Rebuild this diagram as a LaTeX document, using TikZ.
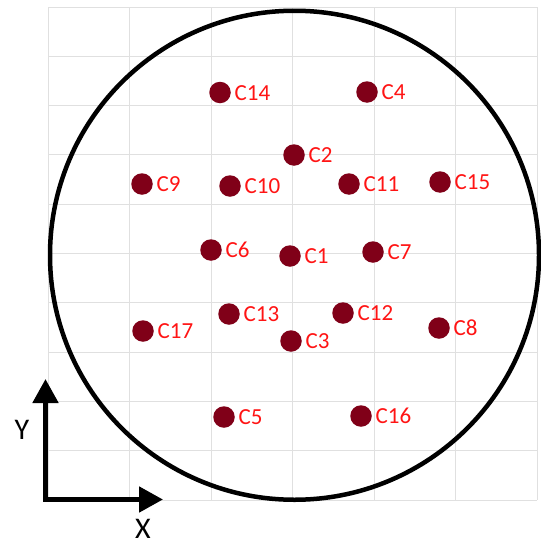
\documentclass[tikz,border=0pt]{standalone}
\usepackage{fontspec}
\setmainfont{Carlito}
\usetikzlibrary{arrows.meta}
\definecolor{dotred}{RGB}{128,0,24}
\definecolor{labred}{RGB}{255,20,20}
\definecolor{gridgray}{RGB}{224,224,224}
\tikzset{
  gridline/.style={draw=gridgray, line width=1pt},
  wafer/.style={draw=black, line width=4.5pt},
  dotnode/.style={circle, fill=dotred, minimum size=21.5pt, inner sep=0pt},
  lab/.style={text=labred, anchor=base west, inner sep=0pt, font=\fontsize{23}{26}\selectfont},
  axis/.style={draw=black, line width=5pt, -{Triangle[length=24pt,width=25pt]}},
  axlab/.style={text=black, inner sep=0pt, font=\fontsize{30}{34}\selectfont}
}
\begin{document}
\begin{tikzpicture}[x=1pt,y=-1pt]
\useasboundingbox[fill=white] (0,0) rectangle (541,541);
% grid
\foreach \k in {0,...,6}{
  \draw[gridline] ({48+\k*81.5},7) -- ({48+\k*81.5},500);
}
\foreach \k in {0,...,10}{
  \draw[gridline] (48,{7+\k*49.3}) -- (537,{7+\k*49.3});
}
% wafer circle
\node[draw=none, inner sep=0pt, minimum size=0pt] (ctr) at (294.5,255.25) {};
\draw[wafer] (ctr) circle[radius=244.5];
% dots
\foreach \n/\x/\y in {C14/220/92.5, C4/367/92, C2/294/155, C9/142/184, C10/230/186,
  C11/349/184, C15/440/182, C6/211/250, C1/290/256, C7/373/252, C13/229/314,
  C17/143/331, C12/343/313, C3/291/341, C8/439/328, C5/224/417, C16/361/416}{
  \node[dotnode] (d\n) at (\x,\y) {};
  \node[lab] (l\n) at (\x+14.5,\y+7.5) {\n};
}
% axes
\coordinate (o) at (45.5,499.5);
\coordinate (ytip) at (45.5,379);
\coordinate (xtip) at (163,499.5);
\draw[axis] (ytip |- o) ++(0,-2.5) -- (ytip);
\draw[axis] (o) ++(-2.5,0) -- (xtip);
\node[axlab] (ylab) at (22,430) {Y};
\node[axlab] (xlab) at (143,528.5) {X};
\end{tikzpicture}
\end{document}
